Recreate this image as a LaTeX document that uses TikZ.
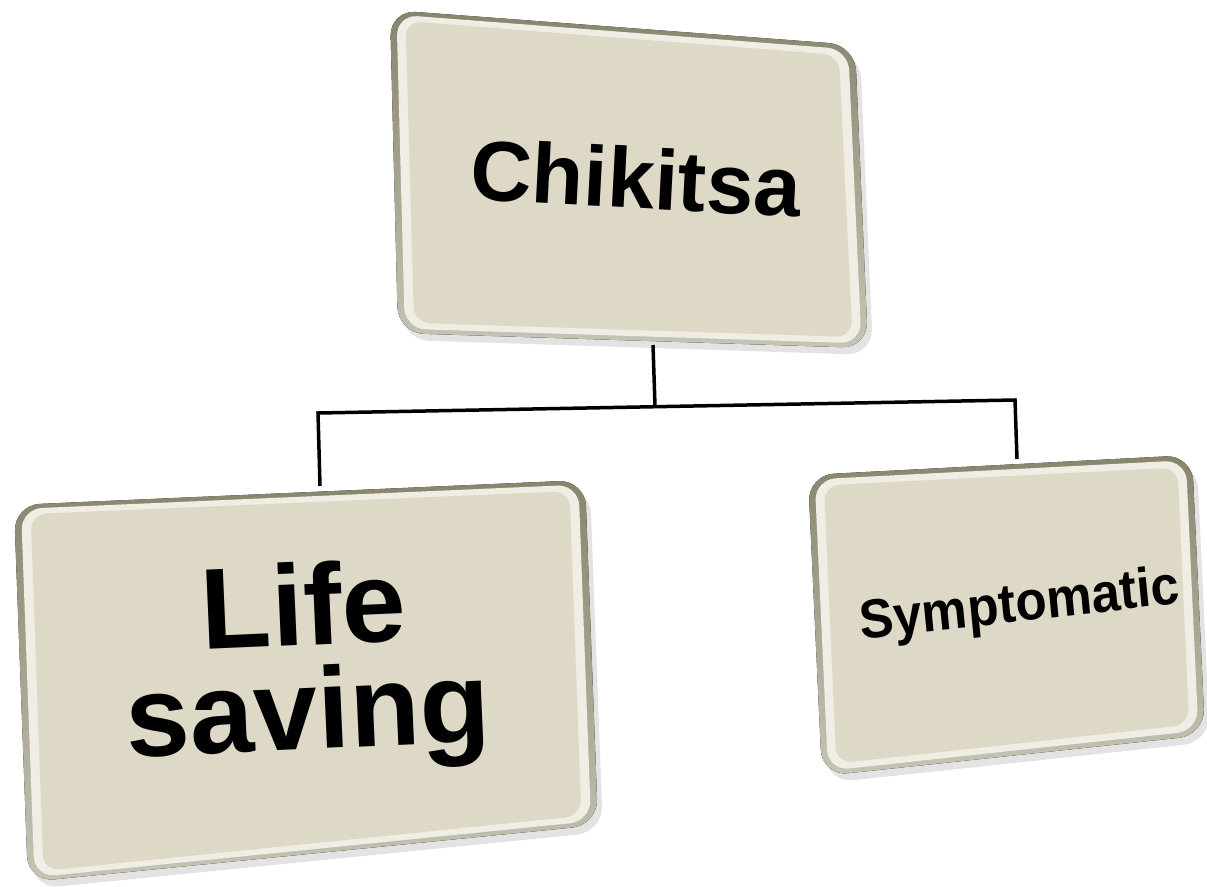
\documentclass[tikz,border=0pt]{standalone}
\usepackage{fontspec}
\setmainfont{Liberation Sans}
\usetikzlibrary{calc}
\definecolor{face}{RGB}{222,217,198}
\definecolor{rim}{RGB}{240,238,228}
\definecolor{bzdark}{RGB}{135,133,110}
\definecolor{bzlight}{RGB}{198,196,180}
\tikzset{
  boxshadow/.style={fill=black!18, opacity=.6},
  bezel/.style={top color=bzdark, bottom color=bzlight},
  rimfill/.style={fill=rim},
  facefill/.style={fill=face},
  label/.style={font=\bfseries, text=black, align=center, inner sep=0pt},
  conn/.style={draw=black, line width=3.5pt}
}
\newcommand\bzbox[4]{%
  \coordinate (p1) at #1; \coordinate (p2) at #2;
  \coordinate (p3) at #3; \coordinate (p4) at #4;
  \fill[boxshadow, rounded corners=26pt] ($(p1)+(5,7)$) -- ($(p2)+(5,7)$) -- ($(p3)+(5,7)$) -- ($(p4)+(5,7)$) -- cycle;
  \fill[bezel, rounded corners=26pt] (p1) -- (p2) -- (p3) -- (p4) -- cycle;
  \fill[rimfill, rounded corners=21pt] ($(p1)!8pt!(p3)$) -- ($(p2)!8pt!(p4)$) -- ($(p3)!8pt!(p1)$) -- ($(p4)!8pt!(p2)$) -- cycle;
  \fill[facefill, rounded corners=16pt] ($(p1)!19pt!(p3)$) -- ($(p2)!19pt!(p4)$) -- ($(p3)!19pt!(p1)$) -- ($(p4)!19pt!(p2)$) -- cycle;
}
\begin{document}
\begin{tikzpicture}[x=1pt,y=-1pt]
\useasboundingbox (0,0) rectangle (1207,886);
% boxes
\bzbox{(390,10)}{(855,45)}{(868,348)}{(398,333)}
\bzbox{(14,505)}{(585,480)}{(598,825)}{(28,882)}
\bzbox{(808,475)}{(1192,455)}{(1205,735)}{(822,776)}
% labels
\node[label, font=\fontsize{85}{90}\selectfont\bfseries, rotate=-3] (chik) at (636,178) {Chikitsa};
\node[label, font=\fontsize{115}{104}\selectfont\bfseries, rotate=2.5] (life) at (306,668) {Life\\saving};
\node[label, font=\fontsize{55}{60}\selectfont\bfseries, xscale=0.93, rotate=6] (symp) at (1020,607) {Symptomatic};
% connector points
\coordinate (chikb) at (653,345);
\coordinate (jn) at (655,406);
\coordinate (jl) at (318,413);
\coordinate (jr) at (1015,400);
\coordinate (lifet) at (320,486);
\coordinate (sympt) at (1017,459);
\draw[conn] (chikb) -- (jn);
\draw[conn, line join=miter] (lifet) -- (jl) -- (jr) -- (sympt);
\end{tikzpicture}
\end{document}
